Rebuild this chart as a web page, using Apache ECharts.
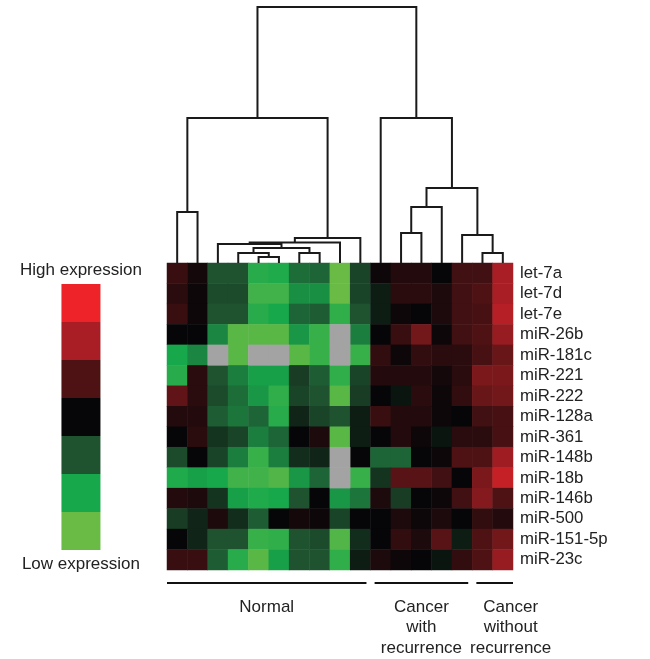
<!DOCTYPE html>
<html>
<head>
<meta charset="utf-8">
<title>miRNA expression heatmap</title>
<script src="https://cdn.jsdelivr.net/npm/echarts@6/dist/echarts.min.js"></script>
<style>
  html, body { margin: 0; padding: 0; background: #fff; }
  #chart { width: 650px; height: 659px; }
</style>
</head>
<body>
<div id="chart"></div>
<script>
// rows (miRNAs), top to bottom
const rowLabels = ['let-7a', 'let-7d', 'let-7e', 'miR-26b', 'miR-181c', 'miR-221', 'miR-222',
  'miR-128a', 'miR-361', 'miR-148b', 'miR-18b', 'miR-146b', 'miR-500', 'miR-151-5p', 'miR-23c']

// expression per sample (17 columns, dendrogram order); null = missing (grey)
const expr = [
  [0.7, 0.2, -1.0, -1.0, -2.2, -2.1, -1.3, -1.2, -3.0, -0.8, 0.1, 0.4, 0.4, 0.0, 0.8, 0.8, 2.0],
  [0.5, 0.1, -0.9, -0.9, -2.5, -2.5, -1.7, -1.7, -3.0, -0.8, -0.3, 0.5, 0.5, 0.3, 0.8, 1.0, 2.0],
  [0.7, 0.1, -1.0, -1.0, -2.2, -2.0, -1.2, -1.1, -2.3, -1.0, -0.3, 0.1, 0.0, 0.3, 0.8, 0.9, 2.2],
  [0.0, 0.0, -1.6, -2.8, -2.8, -2.8, -1.8, -2.4, null, -1.5, 0.0, 0.7, 1.4, 0.1, 0.8, 1.0, 1.8],
  [-2.0, -1.6, null, -2.8, null, null, -2.8, -2.4, null, -2.4, 0.6, 0.1, 0.6, 0.5, 0.5, 0.9, 1.3],
  [-2.2, 0.5, -1.0, -1.5, -1.9, -1.9, -0.7, -1.1, -2.3, -0.8, 0.4, 0.4, 0.4, 0.2, 0.5, 1.5, 1.5],
  [1.2, 0.5, -0.9, -1.3, -1.8, -2.3, -0.8, -1.0, -2.8, -0.7, 0.0, -0.2, 0.5, 0.1, 0.6, 1.3, 1.4],
  [0.4, 0.4, -1.1, -1.4, -1.2, -2.2, -0.4, -0.8, -1.0, -0.3, 0.7, 0.4, 0.4, 0.1, 0.0, 0.8, 0.9],
  [0.0, 0.5, -0.6, -0.8, -1.5, -1.2, 0.0, 0.3, -2.8, -0.3, 0.0, 0.4, 0.1, -0.2, 0.5, 0.5, 0.9],
  [-0.9, 0.0, -0.8, -1.5, -2.4, -1.5, -0.5, -0.4, null, 0.0, -1.2, -1.2, 0.0, 0.1, 1.0, 1.0, 1.9],
  [-2.1, -1.9, -2.0, -2.5, -2.5, -2.7, -1.8, -1.2, null, -2.4, -0.6, 1.1, 1.1, 0.8, 0.0, 1.5, 2.4],
  [0.4, 0.3, -0.6, -1.9, -2.1, -2.0, -1.0, 0.0, -1.8, -1.4, 0.3, -0.7, 0.0, 0.1, 0.8, 1.6, 1.0],
  [-0.7, -0.4, 0.3, -0.5, -1.1, 0.0, 0.2, 0.1, -0.8, 0.0, 0.0, 0.3, 0.1, 0.3, 0.0, 0.6, 0.4],
  [0.0, -0.4, -1.0, -1.0, -2.4, -2.3, -1.0, -0.9, -2.7, -0.5, 0.0, 0.6, 0.3, 1.1, -0.3, 1.0, 1.4],
  [0.7, 0.7, -1.1, -2.2, -2.8, -1.9, -1.0, -1.0, -2.3, -0.3, 0.3, 0.1, 0.0, -0.2, 0.6, 1.0, 1.8]
]

// sample clustering: [child a, child b, height]; leaves 0..16, merged nodes 17+
const linkage = [
  [4, 5, 0.23],
  [3, 17, 0.39],
  [6, 7, 0.39],
  [18, 19, 0.59],
  [2, 20, 0.74],
  [21, 8, 0.80],
  [22, 9, 0.98],
  [0, 1, 1.99],
  [24, 23, 5.66],
  [15, 16, 0.39],
  [14, 26, 1.09],
  [11, 12, 1.17],
  [28, 13, 2.19],
  [29, 27, 2.93],
  [10, 30, 5.66],
  [25, 31, 10.0]
]

// sample groups (column counts, left to right)
const groupNames = ['Normal', 'Cancer\nwith\nrecurrence', 'Cancer\nwithout\nrecurrence']
const groupSizes = [10, 5, 2]

// colour scale, low to high
const scaleValues = [-3, -2, -1, 0, 1, 2, 3]
const scaleColors = ['#6abb45', '#17a84c', '#1f5330', '#060608', '#4e1214', '#a81e24', '#ee2229']

const nCols = expr[0].length
const font = '"Liberation Sans", Arial, sans-serif'

// heatmap cells
const cells = []
const missing = []
expr.forEach((row, r) => {
  row.forEach((v, c) => {
    if (v === null) missing.push([c, r, 0])
    else cells.push([c, r, v])
  })
})

// dendrogram segments
const nodeX = []
const nodeH = []
for (let i = 0; i < nCols; i++) { nodeX[i] = i + 0.5; nodeH[i] = 0 }
const dendro = linkage.map(([a, b, h], k) => {
  const id = nCols + k
  nodeX[id] = (nodeX[a] + nodeX[b]) / 2
  nodeH[id] = h
  return { coords: [[nodeX[a], nodeH[a]], [nodeX[a], h], [nodeX[b], h], [nodeX[b], nodeH[b]]] }
})

// group spans in column units
const gap = 0.2
let acc = 0
const groupSpans = groupSizes.map((n, i) => {
  const s = acc === 0 ? 0 : acc + gap
  const e = acc + n === nCols ? nCols : acc + n - gap
  acc += n
  return [s, e, i]
})
const labelShift = [0, 0, 16]

const chart = echarts.init(document.getElementById('chart'))

chart.setOption({
  animation: false,
  backgroundColor: '#fff',
  grid: [
    { left: 167, width: 346, top: 263, height: 307 },
    { left: 167, width: 346, top: 7, height: 256 },
    { left: 167, width: 346, top: 582, height: 1 }
  ],
  xAxis: [
    { type: 'category', gridIndex: 0, data: expr[0].map((_, i) => 'S' + (i + 1)), show: false },
    { type: 'value', gridIndex: 1, min: 0, max: nCols, show: false },
    { type: 'value', gridIndex: 2, min: 0, max: nCols, show: false }
  ],
  yAxis: [
    {
      type: 'category',
      gridIndex: 0,
      data: rowLabels,
      inverse: true,
      position: 'right',
      axisLine: { show: false },
      axisTick: { show: false },
      axisLabel: { interval: 0, margin: 7, fontSize: 16.8, color: '#222', fontFamily: font }
    },
    { type: 'value', gridIndex: 1, min: 0, max: 10, show: false },
    { type: 'value', gridIndex: 2, min: 0, max: 1, show: false }
  ],
  visualMap: [
    {
      type: 'continuous',
      show: false,
      seriesIndex: 0,
      min: -3,
      max: 3,
      inRange: { color: scaleColors }
    },
    {
      type: 'piecewise',
      seriesIndex: 4,
      orient: 'vertical',
      left: 5,
      top: 241,
      itemWidth: 39,
      itemHeight: 38,
      itemGap: 0,
      itemSymbol: 'rect',
      selectedMode: false,
      hoverLink: false,
      text: ['High expression', 'Low expression'],
      textStyle: { fontSize: 17, color: '#222', fontFamily: font, lineHeight: 28 },
      pieces: scaleValues.map((v, i) => ({ value: v, color: scaleColors[i] }))
    }
  ],
  series: [
    {
      type: 'heatmap',
      xAxisIndex: 0,
      yAxisIndex: 0,
      data: cells,
      emphasis: { disabled: true }
    },
    {
      type: 'heatmap',
      xAxisIndex: 0,
      yAxisIndex: 0,
      data: missing,
      itemStyle: { color: '#a3a3a3' },
      emphasis: { disabled: true }
    },
    {
      type: 'lines',
      coordinateSystem: 'cartesian2d',
      xAxisIndex: 1,
      yAxisIndex: 1,
      polyline: true,
      clip: false,
      silent: true,
      lineStyle: { color: '#1a1a1a', width: 2, opacity: 1 },
      data: dendro
    },
    {
      type: 'custom',
      xAxisIndex: 2,
      yAxisIndex: 2,
      silent: true,
      data: groupSpans,
      renderItem: (params, api) => {
        const s = api.coord([api.value(0), 0])
        const e = api.coord([api.value(1), 0])
        const idx = api.value(2)
        return {
          type: 'group',
          children: [
            {
              type: 'line',
              shape: { x1: s[0], y1: s[1], x2: e[0], y2: e[1] },
              style: { stroke: '#111', lineWidth: 2 }
            },
            {
              type: 'text',
              x: (s[0] + e[0]) / 2 + labelShift[idx],
              y: s[1] + 14,
              style: {
                text: groupNames[idx],
                font: '17px ' + font,
                fill: '#222',
                align: 'center',
                verticalAlign: 'top',
                lineHeight: 20.5
              }
            }
          ]
        }
      }
    },
    {
      // carries the colour key only
      type: 'scatter',
      xAxisIndex: 2,
      yAxisIndex: 2,
      data: []
    }
  ]
})
</script>
</body>
</html>
